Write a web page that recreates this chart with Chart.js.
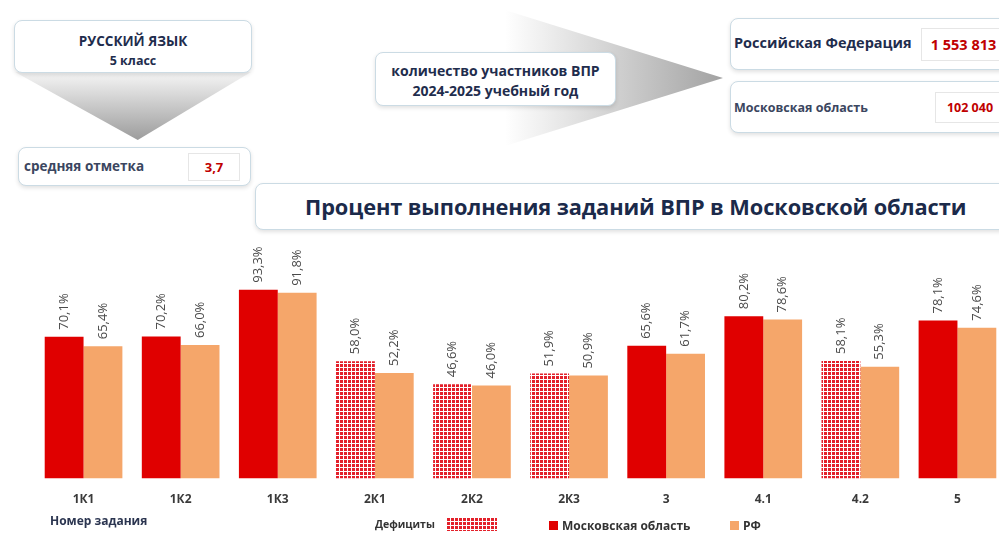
<!DOCTYPE html>
<html lang="ru">
<head>
<meta charset="utf-8">
<script src="https://cdn.jsdelivr.net/npm/chart.js@4.4.1/dist/chart.umd.min.js"></script>
<style>
  html, body { margin: 0; padding: 0; background: #fff; overflow: hidden; }
  body { width: 999px; height: 535px; position: relative; font-family: "Open Sans", sans-serif; color: #1f2d4d; }
  .box { position: absolute; background: #fff; border: 1px solid #cbdbe4; border-radius: 8px;
         box-shadow: 0 2px 4px rgba(0,0,0,0.12); box-sizing: border-box; }
  .val { position: absolute; border: 1px solid #e6e6e6; color: #c00000; font-weight: 700; text-align: center; box-sizing: border-box; background: #fff; }
  .b { font-weight: 700; white-space: nowrap; }
  #tri { position: absolute; left: 15px; top: 72px; width: 236px; height: 68px;
         clip-path: polygon(0 0, 100% 0, 52% 100%); background: linear-gradient(to bottom, #f6f6f6, #9c9c9c); }
  #arrow { position: absolute; left: 505px; top: 10px; width: 218px; height: 136px;
           clip-path: polygon(0 0, 100% 50%, 0 100%); background: linear-gradient(to right, rgba(255,255,255,0), #d6d6d6 45%, #a2a2a2); }
  #chartWrap { position: absolute; left: 0; top: 236px; width: 1006px; height: 285px; }
  .leg { position: absolute; top: 517px; font-size: 12px; font-weight: 700; color: #333; white-space: nowrap; }
  .sq { display: inline-block; width: 9px; height: 9px; margin-right: 4px; }
</style>
</head>
<body>
<div id="tri"></div>
<div class="box" style="left:14px;top:20px;width:238px;height:53px;text-align:center;font-size:13.5px;line-height:20px;padding-top:10px;">
  <div class="b">РУССКИЙ ЯЗЫК</div><div class="b" style="font-size:12.5px;">5 класс</div>
</div>
<div class="box" style="left:18px;top:147px;width:233px;height:39px;">
  <div class="b" style="position:absolute;left:5px;top:9px;font-size:13.5px;color:#3b4660;">средняя отметка</div>
  <div class="val" style="left:169px;top:5px;width:52px;height:28px;line-height:26px;font-size:13px;">3,7</div>
</div>

<div id="arrow"></div>
<div class="box" style="left:375px;top:52px;width:241px;height:54px;text-align:center;font-size:14px;line-height:20px;padding-top:8px;">
  <div class="b">количество участников ВПР</div><div class="b">2024-2025 учебный год</div>
</div>

<div class="box" style="left:730px;top:18px;width:290px;height:52px;">
  <div class="b" style="position:absolute;left:3px;top:14px;font-size:14.5px;">Российская Федерация</div>
  <div class="val" style="left:190px;top:9px;width:85px;height:33px;line-height:31px;font-size:14.5px;">1 553 813</div>
</div>
<div class="box" style="left:730px;top:81px;width:290px;height:52px;">
  <div class="b" style="position:absolute;left:3px;top:17px;font-size:12.5px;color:#3b4660;">Московская область</div>
  <div class="val" style="left:204px;top:10px;width:70px;height:31px;line-height:29px;font-size:12.5px;">102 040</div>
</div>

<div class="box" style="left:255px;top:183px;width:780px;height:47px;">
  <div class="b" style="position:absolute;left:49px;top:8px;font-size:21.8px;letter-spacing:-0.1px;color:#1b2a4a;">Процент выполнения заданий ВПР в Московской области</div>
</div>

<div id="chartWrap"><canvas id="vpr"></canvas></div>

<div class="leg" style="left:50px;top:512px;color:#2b3550;">Номер задания</div>
<div class="leg" style="left:375px;font-size:10.5px;">Дефициты</div>
<canvas id="legPat" width="50" height="13" style="position:absolute;left:447px;top:518px;"></canvas>
<div class="leg" style="left:549px;"><span class="sq" style="background:#e00000"></span>Московская область</div>
<div class="leg" style="left:730px;"><span class="sq" style="background:#f5a66a"></span>РФ</div>

<script>
const tasks = ['1К1', '1К2', '1К3', '2К1', '2К2', '2К3', '3', '4.1', '4.2', '5'];
const moscow = [70.1, 70.2, 93.3, 58.0, 46.6, 51.9, 65.6, 80.2, 58.1, 78.1];
const russia = [65.4, 66.0, 91.8, 52.2, 46.0, 50.9, 61.7, 78.6, 55.3, 74.6];
const deficit = [false, false, false, true, true, true, false, false, true, false];

const red = '#e00000';
const orange = '#f5a66a';

// checkered red-white fill for deficit tasks
function makeTile() {
  const c = document.createElement('canvas');
  c.width = 4; c.height = 4;
  const g = c.getContext('2d');
  g.fillStyle = '#fff';
  g.fillRect(0, 0, 4, 4);
  g.fillStyle = '#e3202a';
  g.fillRect(0, 0, 3, 3);
  return c;
}
const tile = makeTile();
const ctx = document.getElementById('vpr').getContext('2d');
const deficitFill = ctx.createPattern(tile, 'repeat');

const lp = document.getElementById('legPat').getContext('2d');
lp.fillStyle = lp.createPattern(tile, 'repeat');
lp.fillRect(0, 0, 50, 13);

const fmt = v => v.toFixed(1).replace('.', ',') + '%';

const valueLabels = {
  id: 'valueLabels',
  afterDatasetsDraw(chart) {
    const c = chart.ctx;
    c.save();
    c.font = '13px "Open Sans", sans-serif';
    c.fillStyle = '#4a4a4a';
    c.textAlign = 'left';
    c.textBaseline = 'middle';
    chart.data.datasets.forEach((ds, i) => {
      chart.getDatasetMeta(i).data.forEach((bar, j) => {
        c.save();
        c.translate(bar.x, bar.y - 7);
        c.rotate(-Math.PI / 2);
        c.fillText(fmt(ds.data[j]), 0, 0);
        c.restore();
      });
    });
    c.restore();
  }
};

new Chart(ctx, {
  type: 'bar',
  data: {
    labels: tasks,
    datasets: [{
      label: 'Московская область',
      data: moscow,
      backgroundColor: deficit.map(d => d ? deficitFill : red),
      categoryPercentage: 0.8,
      barPercentage: 1.0
    }, {
      label: 'РФ',
      data: russia,
      backgroundColor: orange,
      categoryPercentage: 0.8,
      barPercentage: 1.0
    }]
  },
  options: {
    responsive: true,
    maintainAspectRatio: false,
    animation: false,
    layout: { padding: { left: 35, right: 0, top: 20, bottom: 0 } },
    scales: {
      x: {
        grid: { display: false, drawTicks: false },
        border: { display: false },
        ticks: { padding: 14, color: '#3a3a3a', font: { family: 'Open Sans', size: 12, weight: 'bold' } }
      },
      y: {
        display: false,
        min: 0,
        max: 110
      }
    },
    plugins: {
      legend: { display: false },
      tooltip: { enabled: false }
    }
  },
  plugins: [valueLabels]
});
</script>
</body>
</html>
